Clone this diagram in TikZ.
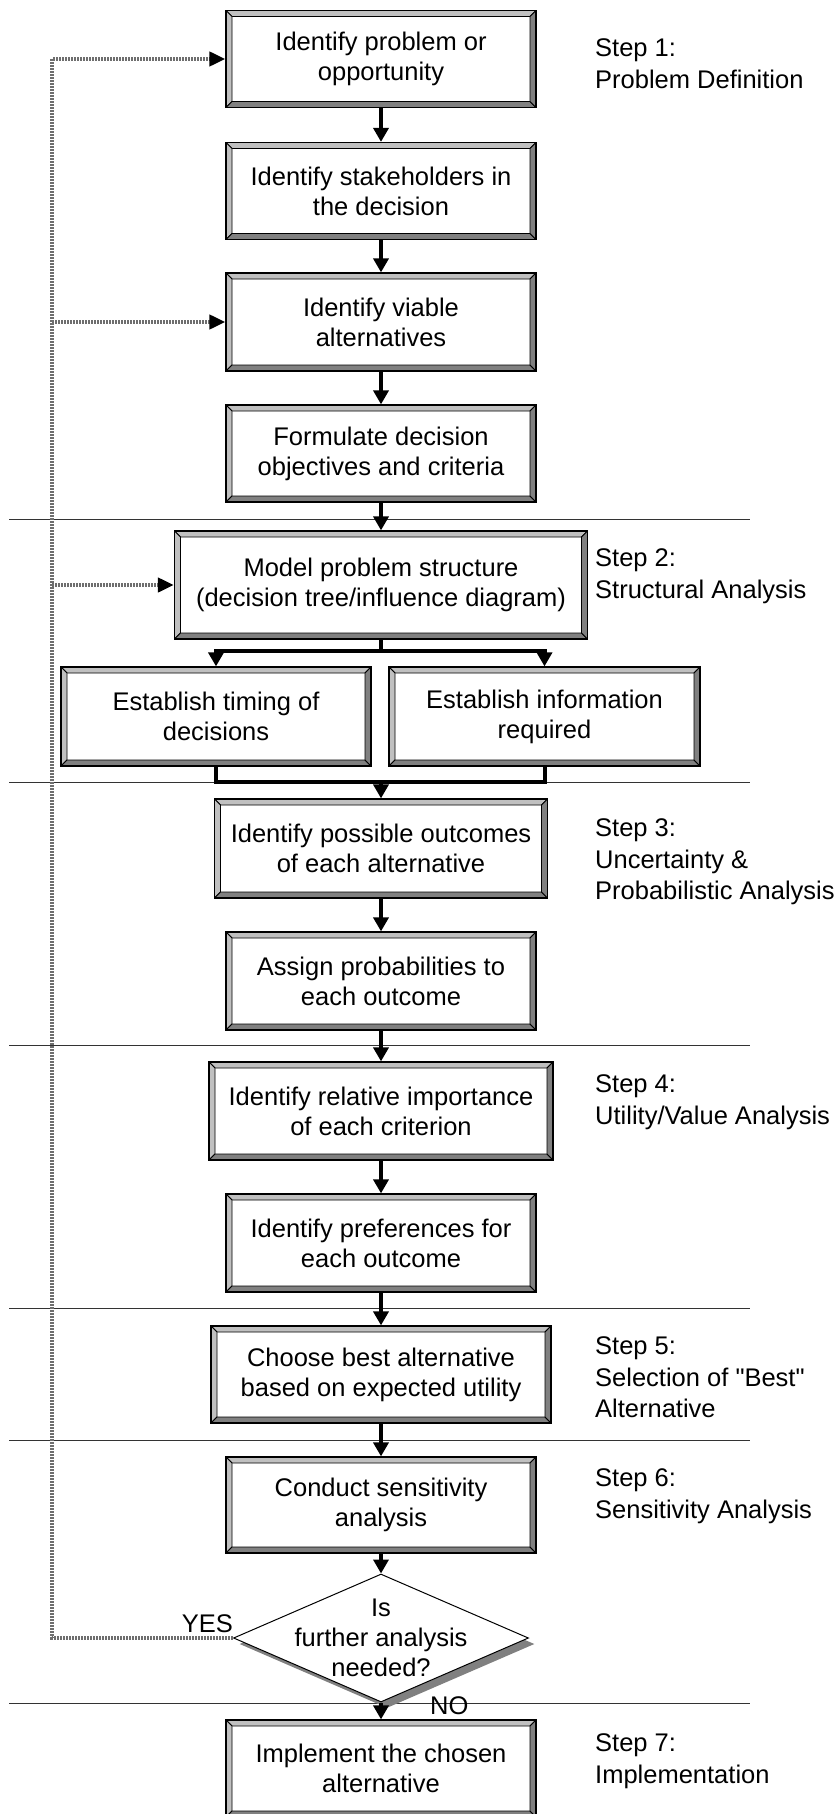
\documentclass[tikz,border=0pt]{standalone}
\usepackage{fontspec}
\setmainfont{Liberation Sans}
\usepackage{xcolor}
\usetikzlibrary{arrows.meta,shapes.geometric,shadows}

\definecolor{bevlight}{HTML}{C0C0C0}
\definecolor{bevdark}{HTML}{808080}
\definecolor{loopgray}{HTML}{6E6E6E}
\newcommand{\boxfont}{\fontsize{25.5}{30}\selectfont}
\newcommand{\stepfont}{\fontsize{25.5}{31.5}\selectfont}

\tikzset{
  procbox/.style={draw=black, line width=1.2pt, fill=white, align=center,
    inner sep=0pt, minimum width=310pt, minimum height=97pt, font=\boxfont,
    path picture={
      \def\ppb{path picture bounding box}
      \begin{scope}[draw=black, line width=0.8pt, line join=miter]
        \filldraw[fill=bevlight] (\ppb.north west) -- (\ppb.north east)
          -- ([xshift=-6pt,yshift=-6pt]\ppb.north east)
          -- ([xshift=6pt,yshift=-6pt]\ppb.north west) -- cycle;
        \filldraw[fill=bevlight] (\ppb.north west) -- ([xshift=6pt,yshift=-6pt]\ppb.north west)
          -- ([xshift=6pt,yshift=6pt]\ppb.south west) -- (\ppb.south west) -- cycle;
        \filldraw[fill=bevdark] (\ppb.south west) -- ([xshift=6pt,yshift=6pt]\ppb.south west)
          -- ([xshift=-6pt,yshift=6pt]\ppb.south east) -- (\ppb.south east) -- cycle;
        \filldraw[fill=bevdark] (\ppb.north east) -- ([xshift=-6pt,yshift=-6pt]\ppb.north east)
          -- ([xshift=-6pt,yshift=6pt]\ppb.south east) -- (\ppb.south east) -- cycle;
      \end{scope}
    }},
  decision/.style={diamond, draw=black, line width=1pt, fill=white, inner sep=0pt,
    minimum width=295pt, minimum height=128pt,
    drop shadow={shadow xshift=6pt, shadow yshift=-6pt, fill=bevdark, opacity=1, draw=none}},
  flow/.style={line width=4pt, line join=miter, -{Triangle[width=15pt,length=14pt]}},
  conn/.style={line width=4pt, line join=miter},
  feedback/.style={draw=loopgray, line width=4pt, dash pattern=on 2pt off 1pt,
    -{Triangle[width=14pt,length=16pt,color=black]}},
  sepline/.style={line width=0.9pt, draw=black!80},
  steplbl/.style={anchor=north west, align=left, inner sep=0pt, font=\stepfont},
  lbl/.style={inner sep=0pt, font=\boxfont}
}

\begin{document}
\begin{tikzpicture}[x=1pt,y=-1pt]
    \useasboundingbox (0,0) rectangle (838,1814);

    % 分隔线
    \foreach \yy in {519,782,1045,1308,1440,1703}
        \draw[sepline] (9,\yy) -- (750,\yy);

    % 步骤框
    \node[procbox] (b1) at (381,59) {Identify problem or\\opportunity};
    \node[procbox] (b2) at (381,191) {Identify stakeholders in\\the decision};
    \node[procbox, minimum height=98pt] (b3) at (381,322) {Identify viable\\alternatives};
    \node[procbox] (b4) at (381,453.5) {Formulate decision\\objectives and criteria};
    \node[procbox, minimum width=413pt, minimum height=108pt] (b5) at (381,585)
        {Model problem structure\\(decision tree/influence diagram)};
    \node[procbox, minimum height=99pt] (b6) at (216,716.5) {Establish timing of\\decisions};
    \node[procbox, minimum width=311pt, minimum height=99pt] (b7) at (544.5,716.5)
        {Establish information\\required};
    \node[procbox, minimum width=333pt, minimum height=99pt] (b8) at (381,848.5)
        {Identify possible outcomes\\of each alternative};
    \node[procbox, minimum height=98pt] (b9) at (381,981) {Assign probabilities to\\each outcome};
    \node[procbox, minimum width=344pt, minimum height=98pt] (b10) at (381,1111)
        {Identify relative importance\\of each criterion};
    \node[procbox, minimum height=98pt] (b11) at (381,1243) {Identify preferences for\\each outcome};
    \node[procbox, minimum width=340pt] (b12) at (381,1374.5)
        {Choose best alternative\\based on expected utility};
    \node[procbox, minimum height=96pt] (b13) at (381,1505) {Conduct sensitivity\\analysis};
    \node[decision, label={[lbl, align=center]center:Is\\further analysis\\needed?}] (q) at (381,1638) {};
    \node[procbox] (b14) at (381,1768.5) {Implement the chosen\\alternative};

    % 判断分支标注
    \node[lbl, anchor=base east] (yes) at ([yshift=6pt]q.west) {YES};
    \node[lbl, anchor=base west] (no) at ([xshift=49pt,yshift=-12pt]q.south) {NO};

    % 主流程箭头
    \foreach \a/\b in {b1/b2,b2/b3,b3/b4,b4/b5,b8/b9,b9/b10,b10/b11,b11/b12,b12/b13,b13/q,q/b14}
        \draw[flow] (\a) -- (\b);

    % 分叉与汇合
    \draw[conn] (b5.south) -- ++(0,11) coordinate (split);
    \draw[flow] (split) -| (b6.north);
    \draw[flow] (split) -| (b7.north);
    \coordinate (merge) at (381,782);
    \draw[conn] (b6.south) |- (merge) -| (b7.south);
    \draw[flow] (merge) -- (b8);

    % 反馈回路
    \draw[feedback] (q.west) -- ++(-181,0) coordinate (fbturn) |- (b1.west);
    \draw[feedback] (fbturn |- b3.west) -- (b3.west);
    \draw[feedback] (fbturn |- b5.west) -- (b5.west);

    % 步骤说明
    \node[steplbl] (s1) at (595,38.5) {Step 1:\\Problem Definition};
    \node[steplbl] (s2) at (595,548.5) {Step 2:\\Structural Analysis};
    \node[steplbl] (s3) at (595,818.5) {Step 3:\\Uncertainty \&\\Probabilistic Analysis};
    \node[steplbl] (s4) at (595,1074.5) {Step 4:\\Utility/Value Analysis};
    \node[steplbl] (s5) at (595,1336.5) {Step 5:\\Selection of \textquotedbl Best\textquotedbl\\Alternative};
    \node[steplbl] (s6) at (595,1468.5) {Step 6:\\Sensitivity Analysis};
    \node[steplbl] (s7) at (595,1733.5) {Step 7:\\Implementation};
\end{tikzpicture}
\end{document}
